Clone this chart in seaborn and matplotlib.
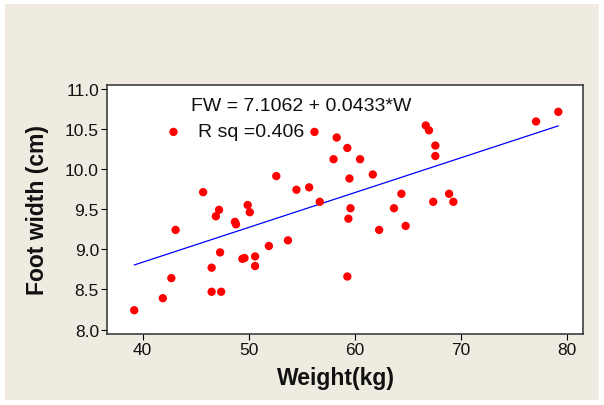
import matplotlib
matplotlib.use("Agg")
import matplotlib.pyplot as plt
from matplotlib.patches import Rectangle
import numpy as np
import pandas as pd
import seaborn as sns

# Body weight (kg) and foot width (cm) for each subject
weight = [39.2, 41.9, 42.7, 43.1, 42.9, 45.7, 46.5, 46.5, 47.4, 47.3,
          46.9, 47.2, 48.7, 48.8, 49.9, 50.1, 49.4, 49.6, 50.6, 50.6,
          51.9, 53.7, 52.6, 54.5, 55.7, 56.7, 56.2, 58.3, 58.0, 59.3,
          59.5, 60.5, 59.6, 59.4, 59.3, 61.7, 62.3, 63.7, 64.4, 64.8,
          66.7, 67.0, 67.6, 67.6, 67.4, 68.9, 69.3, 77.1, 79.2]
foot_width = [8.24, 8.39, 8.64, 9.24, 10.46, 9.71, 8.77, 8.47, 8.47, 8.96,
              9.41, 9.49, 9.34, 9.31, 9.55, 9.46, 8.88, 8.89, 8.91, 8.79,
              9.04, 9.11, 9.91, 9.74, 9.77, 9.59, 10.46, 10.39, 10.12, 10.26,
              9.88, 10.12, 9.51, 9.38, 8.66, 9.93, 9.24, 9.51, 9.69, 9.29,
              10.54, 10.48, 10.29, 10.16, 9.59, 9.69, 9.59, 10.59, 10.71]

# Fitted regression: FW = intercept + slope * W
intercept = 7.1062
slope = 0.0433
r_sq = 0.406

x_ticks = [40, 50, 60, 70, 80]
y_ticks = [8.0, 8.5, 9.0, 9.5, 10.0, 10.5, 11.0]

df = pd.DataFrame({"Weight": weight, "FootWidth": foot_width})
w_line = np.array([min(weight), max(weight)])
fit = pd.DataFrame({"Weight": w_line, "FootWidth": intercept + slope * w_line})

sns.set_theme(style="white")
plt.rcParams["font.family"] = ["Liberation Sans", "DejaVu Sans"]

fig = plt.figure(figsize=(6.04, 4.06), dpi=100)
fig.patch.set_facecolor("white")
# beige panel behind the plot
fig.patches.append(Rectangle((5 / 604, 5 / 406), 594 / 604, 396 / 406,
                             transform=fig.transFigure, facecolor="#EFEBE1",
                             edgecolor="none", zorder=-10))

ax = fig.add_axes([107.3 / 604, 1 - 334.7 / 406, 475.4 / 604, 248.7 / 406])
ax.set_zorder(1)
ax.set_facecolor("white")

sns.lineplot(data=fit, x="Weight", y="FootWidth", ax=ax, color="#0000FF",
             linewidth=0.9, zorder=2)
sns.scatterplot(data=df, x="Weight", y="FootWidth", ax=ax, color="#FF0000",
                s=36, edgecolor="none", linewidth=0, zorder=3)

ax.set_xlim(36.66, 81.5)
ax.set_ylim(7.948, 11.044)
ax.set_xticks(x_ticks)
ax.set_xticklabels([str(t) for t in x_ticks])
ax.set_yticks(y_ticks)
ax.set_yticklabels([f"{t:.1f}" for t in y_ticks])
ax.tick_params(axis="both", which="major", direction="out", length=4,
               width=0.8, color="black", labelsize=12.5, pad=2,
               labelcolor="#111111")
ax.tick_params(axis="x", bottom=True)
ax.tick_params(axis="y", left=True)

for side, sp in ax.spines.items():
    sp.set_visible(True)
    sp.set_linewidth(1.1)
    sp.set_color("#303030")

ax.set_xlabel("Weight(kg)", fontsize=16.5, fontweight="bold", color="#111111")
ax.set_ylabel("Foot width (cm)", fontsize=16.5, fontweight="bold", color="#111111")
ax.xaxis.set_label_coords((335.5 - 107.3) / 475.4, -(367 - 334.7) / 248.7)
ax.yaxis.set_label_coords(-(107.3 - 49) / 475.4, 0.5)

ax.text(0.1754, 0.9168, f"FW = {intercept:.4f} + {slope:.4f}*W",
        transform=ax.transAxes, fontsize=14, ha="left", va="center",
        color="#111111")
ax.text(0.190, 0.812, f"R sq ={r_sq:.3f}",
        transform=ax.transAxes, fontsize=14, ha="left", va="center",
        color="#111111")

fig.savefig("out.png", dpi=100)
